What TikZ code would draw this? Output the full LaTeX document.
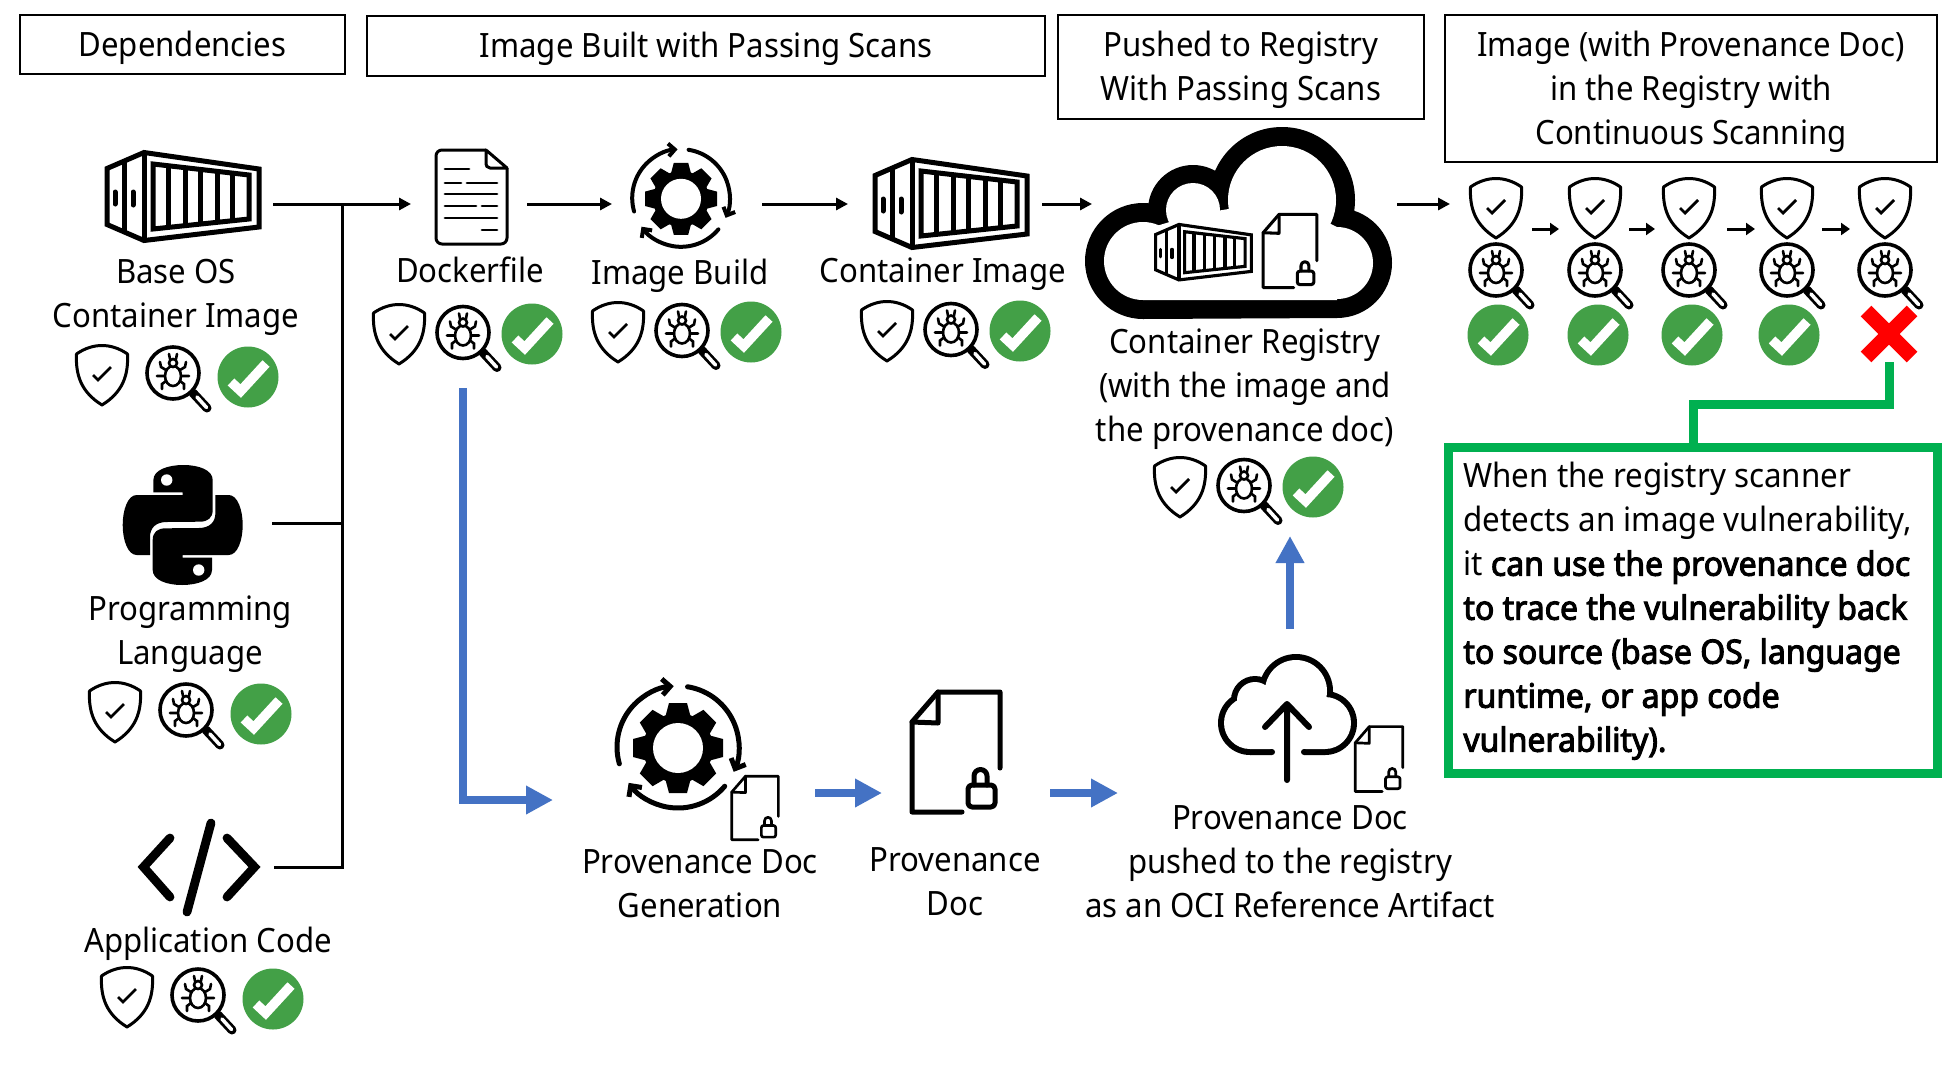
\documentclass[tikz,border=0pt]{standalone}
\usepackage{fontspec}
\setmainfont{Noto Sans}[FakeStretch=0.93]
\newfontfamily\noteplain{Noto Sans}[FakeStretch=0.935]
\newfontfamily\notebold{Noto Sans}[FakeStretch=0.955,FakeBold=3]
\usetikzlibrary{arrows.meta}
\definecolor{okgreen}{HTML}{43A047}
\definecolor{boxgreen}{HTML}{00B050}
\definecolor{flowblue}{HTML}{4472C4}
\newcommand\lift{\rule{0pt}{16pt}}
\tikzset{
  hub/.style 2 args={inner sep=0,outer sep=0,minimum width=#1*0.5pt,minimum height=#2*0.5pt},
  title/.style={draw,line width=1pt,inner sep=0,outer sep=0,align=center,font=\fontsize{16.75}{22}\selectfont},
  lbl/.style={inner sep=0,align=center,font=\fontsize{16.75}{22}\selectfont},
  conn/.style={line width=1.5pt,-{Triangle[length=6pt,width=6pt]}},
  tiny/.style={line width=1.5pt,-{Triangle[length=4.5pt,width=6pt]}},
  flow/.style={flowblue,line width=4pt,-{Triangle[length=13.5pt,width=13.5pt]}},
}
\newcommand\shieldI[2]{\begin{scope}[shift={(#1,#2)}]
  \draw[line width=1.5pt,line join=round] (-25.5,-21) .. controls (-17,-27) and (-8,-29.5) .. (0,-29.5) .. controls (8,-29.5) and (17,-27) .. (25.5,-21) .. controls (26.5,0) and (21,17) .. (0,30) .. controls (-21,17) and (-26.5,0) .. (-25.5,-21) -- cycle;
  \draw[line width=1.4pt] (-9,0) -- (-4,5) -- (9,-8);
\end{scope}}
\newcommand\magI[2]{\begin{scope}[shift={(#1,#2)}]
  \draw[line width=4.5pt,line cap=round] (20,20) -- (34,35);
  \draw[white,line width=1.8pt,line cap=round] (24,24) -- (33.5,34.5);
  \draw[line width=1.8pt,fill=white] (0,0) circle[radius=26];
  \draw[line width=1.3pt,fill=white] (0,3) ellipse[x radius=8,y radius=10];
  \draw[line width=1.3pt,fill=white] (0,-10) circle[radius=4];
  \draw[line width=1.3pt,line cap=round] (-4,-19) -- (-3,-14) (4,-19) -- (3,-14)
    (-7,-3) -- (-12,-6) -- (-13,-11) (7,-3) -- (12,-6) -- (13,-11)
    (-8,3) -- (-16,3) (8,3) -- (16,3)
    (-7,8) -- (-11,11) -- (-11,16) (7,8) -- (11,11) -- (11,16);
\end{scope}}
\newcommand\okI[2]{\begin{scope}[shift={(#1,#2)}]
  \fill[okgreen] (0,0) circle[radius=30.5];
  \draw[white,line width=4.8pt] (-17,5) -- (-7.3,14) -- (18,-13.5);
\end{scope}}
\newcommand\trio[2]{\begin{scope}[shift={(#1,#2)}]
  \shieldI{0}{0}\magI{71}{-2}\okI{146}{2}
\end{scope}}
\newcommand\trioB[2]{\begin{scope}[shift={(#1,#2)}]
  \shieldI{0}{0}\magI{64}{-1.5}\okI{133}{0}
\end{scope}}
\newcommand\stack[2]{\shieldI{#1}{208}\magI{#1}{270}\okI{#2}{335}}
\newcommand\ctrI[3]{\begin{scope}[shift={(#1,#2)},scale=#3,line width=#3*2.5pt,line join=miter]
  \draw (-76,-28.5) -- (-39,-44.5) -- (76,-28) -- (76,30) -- (-39,43.5) -- (-76,27.5) -- cycle;
  \draw (-39,-44.5) -- (-39,43.5) (-59,-36) -- (-59,36);
  \draw (-30,-33) -- (66,-22) -- (66,22) -- (-30,32) -- cycle;
  \draw (-15,-31.3) -- (-15,30.4) (2,-29.3) -- (2,28.7) (17,-27.6) -- (17,27.1) (34,-25.7) -- (34,25.3) (49,-23.9) -- (49,23.8);
  \draw[line cap=round] (-68,-5) -- (-68,7) (-50,-5) -- (-50,8);
\end{scope}}
\newcommand\docI[3]{\begin{scope}[shift={(#1,#2)},scale=#3,line width=#3*2.5pt,line join=round,line cap=round]
  \draw (6,60) -- (-44,60) -- (-44,-30) -- (-18,-60) -- (44,-60) -- (44,16);
  \draw (-18,-60) -- (-18,-29) -- (-44,-30);
  \draw[rounded corners=#3*2pt] (12,33) rectangle (39,55);
  \draw (18,33) -- (18,24) arc[start angle=180,end angle=360,radius=6.5] -- (31,33);
\end{scope}}
\newcommand\gearI[3]{\begin{scope}[shift={(#1,#2)},scale=#3]
  \fill (0,1) circle[radius=35];
  \foreach \a in {0,45,...,315} {\fill[shift={(0,1)},rotate=\a] (-9,-45) -- (9,-45) -- (13,-30) -- (-13,-30) -- cycle;}
  \fill[white] (0,1) circle[radius=25];
  \draw[line width=#3*2.5pt,line cap=round,-{Straight Barb[length=#3*4pt,width=#3*8pt,line width=#3*2.5pt]}]
    (164:61) arc[start angle=164,end angle=266,radius=61];
  \draw[line width=#3*2.5pt,line cap=round,-{Straight Barb[length=#3*4pt,width=#3*8pt,line width=#3*2.5pt]}]
    (-81:61) arc[start angle=-81,end angle=24,radius=61];
  \draw[line width=#3*2.5pt,line cap=round,-{Straight Barb[length=#3*4pt,width=#3*8pt,line width=#3*2.5pt]}]
    (40:61) arc[start angle=40,end angle=144,radius=61];
\end{scope}}
\begin{document}
\begin{tikzpicture}[x=0.5pt,y=0.5pt,yscale=-1]
\useasboundingbox (0,0) rectangle (1943,1082);
\fill[white] (0,0) rectangle (1943,1082);
% header boxes
\node[title,minimum width=325*0.5pt,minimum height=59*0.5pt] (h1) at (182.5,44.5) {\lift Dependencies};
\node[title,minimum width=678*0.5pt,minimum height=60*0.5pt] (h2) at (706,46) {\lift Image Built with Passing Scans};
\node[title,minimum width=366*0.5pt,minimum height=104*0.5pt] (h3) at (1241,67) {\lift Pushed to Registry\\With Passing Scans};
\node[title,minimum width=492*0.5pt,minimum height=147*0.5pt] (h4) at (1691,88.5) {\lift Image (with Provenance Doc)\\in the Registry with\\Continuous Scanning};
% hubs (invisible anchors for connectors)
\node[hub={180}{93}] (base) at (183,204) {};
\node[hub={116}{96}] (docker) at (469,204) {};
\node[hub={150}{100}] (build) at (687,204) {};
\node[hub={194}{90}] (image) at (945,204) {};
\node[hub={305}{190}] (registry) at (1244.5,204) {};
\node[hub={178}{120}] (python) at (183,523) {};
\node[hub={152}{90}] (code) at (198,867) {};
\node[hub={262}{100}] (provgen) at (684,793) {};
\node[hub={168}{120}] (provdoc) at (966,793) {};
\node[hub={180}{102}] (upload) at (1208,793) {};
\node[hub={72}{120}] (s1) at (1496,229) {};
\node[hub={70}{120}] (s2) at (1594,229) {};
\node[hub={72}{120}] (s3) at (1691,229) {};
\node[hub={67}{120}] (s4) at (1788.5,229) {};
\node[hub={70}{120}] (s5) at (1885,229) {};
\node[hub={56}{56}] (redx) at (1889,334) {};
\node[hub={200}{96}] (dscan) at (463,340) {};
\node[hub={200}{112}] (rscan) at (1290,480) {};
\node[hub={100}{100}] (upcloud) at (1290,679) {};
\coordinate (junction) at (342,204);
\coordinate (pgin) at (553,800);
\coordinate (stackin) at (1450,204);
% icons
\ctrI{183}{197}{1}
\ctrI{951}{204}{1}
% dockerfile
\begin{scope}[line width=1.5pt,line join=round]
  \draw[rounded corners=3pt] (486,150) -- (436,150) -- (436,244) -- (507,244) -- (507,168);
  \draw (486,150) -- (507,168) -- (490,168) .. controls (487,168) and (486,166) .. (486,162) -- cycle;
  \draw[line width=1.4pt,line cap=round] (445,169) -- (469,169) (445,183) -- (461,183) (467,183) -- (497,183) (445,194) -- (497,194) (445,206) -- (476,206) (482,206) -- (497,206) (445,218) -- (497,218) (482,230) -- (497,230);
\end{scope}
\gearI{681}{198}{0.8}
\gearI{678}{747}{1}
\docI{755}{808}{0.53}
\docI{956}{752}{1}
% registry cloud
\fill (1143,261) circle[radius=58] (1337,263) circle[radius=55] (1282,200) circle[radius=73] (1193,210) circle[radius=45];
\fill (1143,319) -- (1337,318) -- (1337,230) -- (1282,200) -- (1193,210) -- (1143,230) -- cycle;
\fill[white] (1143,261) circle[radius=39] (1337,263) circle[radius=36] (1282,200) circle[radius=54] (1193,210) circle[radius=27];
\fill[white] (1143,300) -- (1337,300) -- (1337,227) -- (1282,200) -- (1193,215) -- (1143,230) -- cycle;
\ctrI{1203.5}{252.5}{0.63}
\docI{1290}{251}{0.61}
% upload cloud
\fill (1250,723) circle[radius=32] (1325,723) circle[radius=32] (1296,691) circle[radius=37] (1255,700) circle[radius=24];
\fill (1250,755) -- (1325,755) -- (1325,710) -- (1296,691) -- (1255,700) -- cycle;
\fill[white] (1250,723) circle[radius=26] (1325,723) circle[radius=26] (1296,691) circle[radius=31] (1255,700) circle[radius=18];
\fill[white] (1250,749) -- (1325,749) -- (1325,710) -- (1296,691) -- (1255,700) -- cycle;
\fill[white] (1272,745) rectangle (1304,760);
\fill (1272,752) circle[radius=3] (1304,752) circle[radius=3];
\draw[line width=3pt,line cap=round,line join=round] (1287,780) -- (1287,704) (1265,727) -- (1287,704) -- (1309,727);
\docI{1379}{759}{0.54}
% python
\begin{scope}[shift={(182.7,525)}]
  \foreach \r in {0,180} {
    \begin{scope}[rotate=\r]
      \fill (-29.3,-32.7) -- (-29.3,-45) .. controls (-29.3,-55) and (-15,-60) .. (0.7,-60) .. controls (16,-60) and (30,-55) .. (30,-45) -- (30,-15) .. controls (30,-7) and (25,-3.3) .. (17,-3.3) -- (-16,-3) .. controls (-27,-3) and (-32.7,3) .. (-32.7,12) -- (-32.7,30) -- (-46,30) .. controls (-55,30) and (-60,15) .. (-60,0) .. controls (-60,-15) and (-55,-30) .. (-46,-30) -- (0,-30) -- (0,-32.7) -- cycle;
      \fill[white] (-16,-45) circle[radius=5.7];
    \end{scope}
  }
\end{scope}
% code
\draw[line width=4.4pt,line cap=round,line join=miter] (170,838) -- (143.5,867) -- (170,897) (227,838) -- (254.5,867) -- (227,897) (211,823) -- (187,912);
% scans
\trio{102}{375}
\trio{115}{712}
\trio{127}{997}
\trioB{399}{334}
\trioB{618}{332}
\trioB{887}{331}
\trioB{1180}{487}
\stack{1496}{1498}
\stack{1595}{1598}
\stack{1689}{1692}
\stack{1787}{1789}
\shieldI{1885}{208}\magI{1885}{270}
\draw[red,line width=7.5pt] (1866,311) -- (1912,357) (1912,311) -- (1866,357);
% labels
\node[lbl] (t1) at (176,297) {Base OS\\Container Image};
\node[lbl] (t2) at (470,270) {Dockerfile};
\node[lbl] (t3) at (680,276) {Image Build};
\node[lbl] (t4) at (943,274) {Container Image};
\node[lbl] (t5) at (1245,389) {Container Registry\\(with the image and\\the provenance doc)};
\node[lbl] (t6) at (190,634) {Programming\\Language};
\node[lbl] (t7) at (208,944) {Application Code};
\node[lbl] (t8) at (700,883.5) {Provenance Doc\\Generation};
\node[lbl] (t9) at (955,882) {Provenance\\Doc};
\node[lbl] (t10) at (1290,861.5) {Provenance Doc\\pushed to the registry\\as an OCI Reference Artifact};
\node[draw=boxgreen,line width=4.5pt,inner sep=0,outer sep=0,minimum width=489*0.5pt,minimum height=326*0.5pt] (note) at (1693,610) {};
\node[lbl,align=left,anchor=west] (notetext) at (1463,611) {\noteplain When the registry scanner\\\noteplain detects an image vulnerability,\\\noteplain it {\notebold can use the provenance doc}\\{\notebold to trace the vulnerability back}\\{\notebold to source (base OS, language}\\{\notebold runtime, or app code}\\{\notebold vulnerability).}};
% connectors
\draw[conn] (base.east) -- (docker.west);
\draw[conn] (docker.east) -- (build.west);
\draw[conn] (build.east) -- (image.west);
\draw[conn] (image.east) -- (registry.west);
\draw[conn] (registry.east) -- (stackin);
\draw[line width=1.5pt] (python.east) -- (python.east -| junction);
\draw[line width=1.5pt] (code.east) -| (junction);
\draw[tiny] (s1.east) -- (s2.west);
\draw[tiny] (s2.east) -- (s3.west);
\draw[tiny] (s3.east) -- (s4.west);
\draw[tiny] (s4.east) -- (s5.west);
\draw[flow] (dscan.south) |- (pgin);
\draw[flow] (provgen.east) -- (provdoc.west);
\draw[flow] (provdoc.east) -- (upload.west);
\draw[flow] (upcloud.north) -- (rscan.south);
\draw[boxgreen,line width=4.5pt] (redx.south) -- ++(0,42) -| (note.north);
\end{tikzpicture}
\end{document}
